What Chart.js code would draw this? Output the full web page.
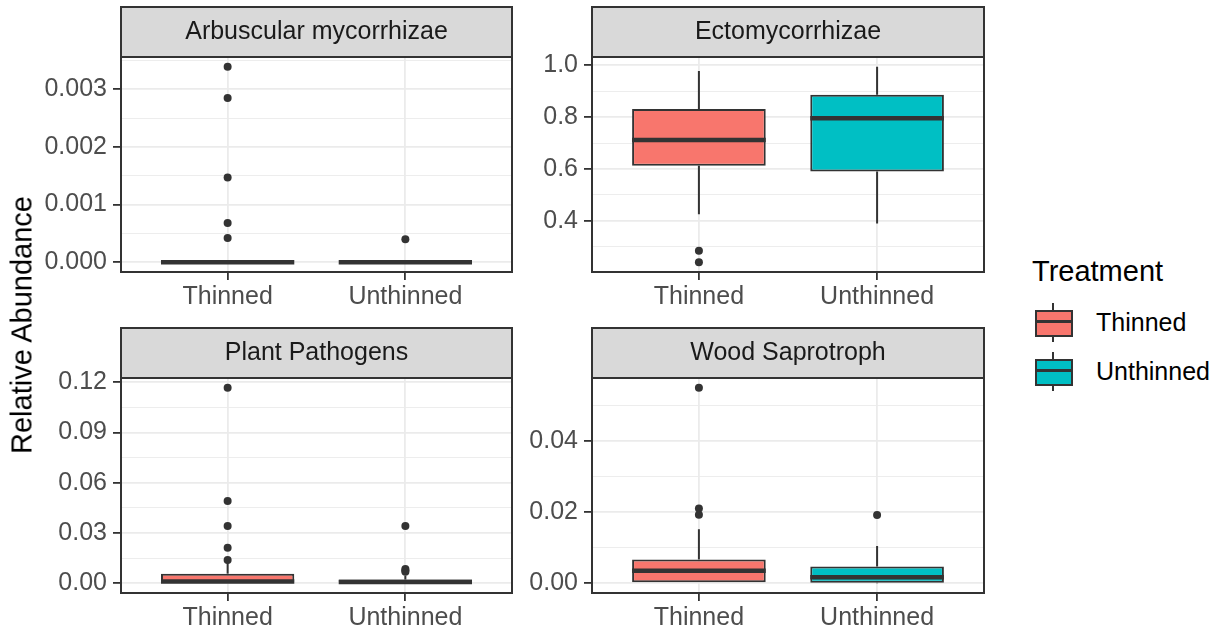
<!DOCTYPE html>
<html lang="en">
<head>
  <meta charset="UTF-8">
  <title>Relative Abundance by Treatment</title>
  <script src="https://cdn.jsdelivr.net/npm/chart.js"></script>
  <style>
    body { margin: 0; background: #fff; font-family: "Liberation Sans", Arial, sans-serif; }
    #wrap { position: relative; width: 1219px; height: 636px; overflow: hidden; }
    canvas { position: absolute; }
    #ytitle { position: absolute; left: 22px; top: 325px; transform: translate(-50%, -50%) rotate(-90deg);
      font-size: 29px; color: #000; white-space: nowrap; }
    #legend { position: absolute; left: 1032px; top: 0; }
    #legend .title { position: absolute; left: 0; top: 255px; font-size: 29px; color: #000; white-space: nowrap; }
    .item { position: absolute; left: 3px; width: 200px; height: 40px; }
    .item .whisker { position: absolute; left: 17px; top: 0; width: 2px; height: 39px; background: #333; }
    .item .box { position: absolute; left: 0; top: 7px; width: 34px; height: 23px; border: 2px solid #333; }
    .item .med { position: absolute; left: 0; top: 17px; width: 38px; height: 3px; background: #333; }
    .item .lab { position: absolute; left: 61px; top: 5px; font-size: 25px; color: #000; white-space: nowrap; }
  </style>
</head>
<body>
<div id="wrap">
  <canvas id="cA" width="520" height="318" style="left:0;top:0"></canvas>
  <canvas id="cB" width="480" height="318" style="left:520px;top:0"></canvas>
  <canvas id="cC" width="520" height="318" style="left:0;top:318px"></canvas>
  <canvas id="cD" width="480" height="318" style="left:520px;top:318px"></canvas>
  <div id="ytitle">Relative Abundance</div>
  <div id="legend"><div class="title">Treatment</div></div>
</div>
<script>
// categories and colours
const categories = ["Thinned", "Unthinned"];
const colours = ["#F8766D", "#00BFC4"];
const facetTitles = ["Arbuscular mycorrhizae", "Ectomycorrhizae", "Plant Pathogens", "Wood Saprotroph"];

// box stats: [lower whisker, q1, median, q3, upper whisker]
const arbThinned = [0, 0, 0, 0, 0];
const arbUnthinned = [0, 0, 0, 0, 0];
const arbThinnedOut = [0.00339, 0.00285, 0.00147, 0.00068, 0.00042];
const arbUnthinnedOut = [0.00040];

const ectoThinned = [0.426, 0.613, 0.712, 0.831, 0.978];
const ectoUnthinned = [0.390, 0.591, 0.796, 0.886, 0.994];
const ectoThinnedOut = [0.285, 0.241];
const ectoUnthinnedOut = [];

const pathThinned = [0, 0, 0.001, 0.0057, 0.013];
const pathUnthinned = [0, 0, 0.0008, 0.0022, 0.0045];
const pathThinnedOut = [0.1167, 0.0491, 0.0342, 0.0212, 0.0139];
const pathUnthinnedOut = [0.0342, 0.0085, 0.0076, 0.0068];

const woodThinned = [0, 0, 0.0035, 0.0067, 0.0152];
const woodUnthinned = [0, 0.0001, 0.0017, 0.0047, 0.0105];
const woodThinnedOut = [0.055, 0.0210, 0.0193];
const woodUnthinnedOut = [0.0192];

// y ticks
const arbMajor = [0, 0.001, 0.002, 0.003];
const arbLabels = ["0.000", "0.001", "0.002", "0.003"];
const arbMinor = [0.0005, 0.0015, 0.0025, 0.0035];
const ectoMajor = [0.4, 0.6, 0.8, 1.0];
const ectoLabels = ["0.4", "0.6", "0.8", "1.0"];
const ectoMinor = [0.3, 0.5, 0.7, 0.9];
const pathMajor = [0, 0.03, 0.06, 0.09, 0.12];
const pathLabels = ["0.00", "0.03", "0.06", "0.09", "0.12"];
const pathMinor = [0.015, 0.045, 0.075, 0.105];
const woodMajor = [0, 0.02, 0.04];
const woodLabels = ["0.00", "0.02", "0.04"];
const woodMinor = [0.01, 0.03, 0.05];

const FONT = '"Liberation Sans", Arial, sans-serif';
const DARK = "#333333";

const facets = [
  { id: "cA", title: facetTitles[0], min: -0.00017, max: 0.00356, major: arbMajor, labels: arbLabels, minor: arbMinor,
    stats: [arbThinned, arbUnthinned], out: [arbThinnedOut, arbUnthinnedOut], yw: 121, pr: 8, top: 57, xh: 46 },
  { id: "cB", title: facetTitles[1], min: 0.2033, max: 1.0317, major: ectoMajor, labels: ectoLabels, minor: ectoMinor,
    stats: [ectoThinned, ectoUnthinned], out: [ectoThinnedOut, ectoUnthinnedOut], yw: 72, pr: 16, top: 57, xh: 46 },
  { id: "cC", title: facetTitles[2], min: -0.00584, max: 0.1225, major: pathMajor, labels: pathLabels, minor: pathMinor,
    stats: [pathThinned, pathUnthinned], out: [pathThinnedOut, pathUnthinnedOut], yw: 121, pr: 8, top: 60, xh: 43 },
  { id: "cD", title: facetTitles[3], min: -0.00275, max: 0.05775, major: woodMajor, labels: woodLabels, minor: woodMinor,
    stats: [woodThinned, woodUnthinned], out: [woodThinnedOut, woodUnthinnedOut], yw: 72, pr: 16, top: 60, xh: 43 }
];

// whiskers, medians, panel border and strip
const boxPlugin = {
  id: "boxplot",
  beforeDatasetsDraw(chart) {
    const f = chart.options.plugins.boxplot.facet;
    const y = chart.scales.y, ctx = chart.ctx;
    const meta = chart.getDatasetMeta(0);
    ctx.save();
    ctx.strokeStyle = DARK;
    ctx.lineWidth = 2;
    meta.data.forEach((bar, i) => {
      const s = f.stats[i];
      ctx.beginPath();
      ctx.moveTo(bar.x, y.getPixelForValue(s[0]));
      ctx.lineTo(bar.x, y.getPixelForValue(s[1]));
      ctx.moveTo(bar.x, y.getPixelForValue(s[3]));
      ctx.lineTo(bar.x, y.getPixelForValue(s[4]));
      ctx.stroke();
    });
    ctx.restore();
  },
  afterDatasetDraw(chart, args) {
    if (args.index !== 0) return;
    const f = chart.options.plugins.boxplot.facet;
    const y = chart.scales.y, ctx = chart.ctx;
    ctx.save();
    ctx.strokeStyle = DARK;
    ctx.lineWidth = 4.5;
    args.meta.data.forEach((bar, i) => {
      const py = y.getPixelForValue(f.stats[i][2]);
      ctx.beginPath();
      ctx.moveTo(bar.x - bar.width / 2, py);
      ctx.lineTo(bar.x + bar.width / 2, py);
      ctx.stroke();
    });
    ctx.restore();
  },
  afterDraw(chart) {
    const f = chart.options.plugins.boxplot.facet;
    const a = chart.chartArea, ctx = chart.ctx;
    ctx.save();
    ctx.lineWidth = 2;
    ctx.strokeStyle = DARK;
    ctx.fillStyle = "#D9D9D9";
    ctx.fillRect(a.left, a.top - 50, a.right - a.left, 50);
    ctx.strokeRect(a.left, a.top - 50, a.right - a.left, 50);
    ctx.strokeRect(a.left, a.top, a.right - a.left, a.bottom - a.top);
    ctx.fillStyle = "#1A1A1A";
    ctx.font = "25px " + FONT;
    ctx.textAlign = "center";
    ctx.textBaseline = "middle";
    ctx.fillText(f.title, (a.left + a.right) / 2, a.top - 25);
    ctx.restore();
  }
};

facets.forEach((f) => {
  const majorSet = new Set(f.major);
  const allTicks = f.major.concat(f.minor).sort((a, b) => a - b);
  const outliers = [];
  f.out.forEach((vals, i) => vals.forEach((v) => outliers.push({ x: i + 1, y: v })));

  new Chart(document.getElementById(f.id), {
    type: "bar",
    data: {
      datasets: [
        {
          data: f.stats.map((s, i) => ({ x: i + 1, y: [s[1], s[3]] })),
          backgroundColor: colours,
          borderColor: DARK,
          borderWidth: 2,
          borderSkipped: false,
          categoryPercentage: 0.75,
          barPercentage: 1,
          grouped: false
        },
        {
          type: "scatter",
          data: outliers,
          pointRadius: 4,
          pointHoverRadius: 4,
          backgroundColor: DARK,
          borderWidth: 0
        }
      ]
    },
    options: {
      responsive: false,
      animation: false,
      layout: { padding: { top: f.top, right: f.pr, left: 0, bottom: 0 } },
      plugins: { legend: { display: false }, tooltip: { enabled: false }, boxplot: { facet: f } },
      scales: {
        x: {
          type: "linear",
          offset: false,
          min: 0.4,
          max: 2.6,
          afterBuildTicks: (s) => { s.ticks = categories.map((c, i) => ({ value: i + 1 })); },
          afterFit: (s) => { s.height = f.xh; },
          ticks: { callback: (v) => categories[v - 1], color: "#4D4D4D", font: { size: 25, family: FONT }, padding: 2, maxRotation: 0 },
          grid: { offset: false, color: "#EBEBEB", lineWidth: 1.8, tickColor: DARK, tickLength: 8 },
          border: { display: false }
        },
        y: {
          min: f.min,
          max: f.max,
          afterBuildTicks: (s) => { s.ticks = allTicks.map((v) => ({ value: v })); },
          afterFit: (s) => { s.width = f.yw; },
          ticks: {
            callback: (v) => { const k = f.major.indexOf(v); return k >= 0 ? f.labels[k] : ""; },
            color: "#4D4D4D", font: { size: 25, family: FONT }, padding: 6, autoSkip: false
          },
          grid: {
            color: "#EBEBEB",
            lineWidth: (c) => (c.tick && majorSet.has(c.tick.value) ? 1.8 : 0.9),
            tickColor: (c) => (c.tick && majorSet.has(c.tick.value) ? DARK : "rgba(0,0,0,0)"),
            tickLength: 8
          },
          border: { display: false }
        }
      }
    },
    plugins: [boxPlugin]
  });
});

// legend
const legend = document.getElementById("legend");
categories.forEach((c, i) => {
  const item = document.createElement("div");
  item.className = "item";
  item.style.top = (303 + i * 49) + "px";
  item.innerHTML = '<div class="whisker"></div><div class="box" style="background:' + colours[i] +
    '"></div><div class="med"></div><div class="lab">' + c + "</div>";
  legend.appendChild(item);
});
</script>
</body>
</html>
